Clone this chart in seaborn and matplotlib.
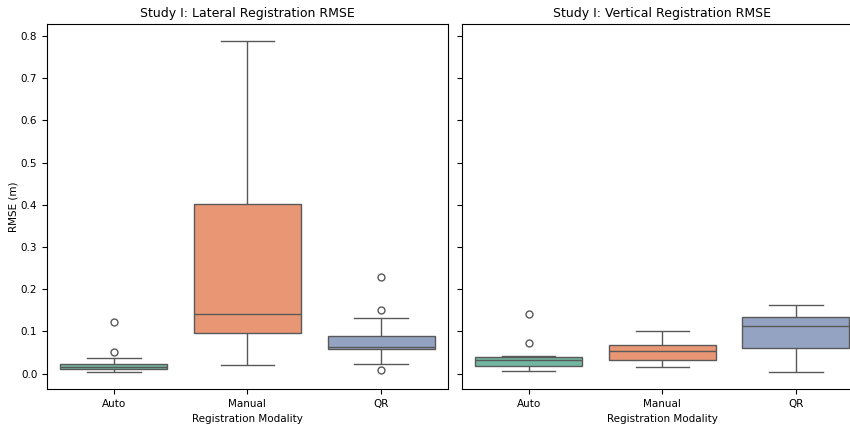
import pandas as pd
import matplotlib
matplotlib.use('Agg')
import matplotlib.pyplot as plt
import seaborn as sns

modalities = ['Auto', 'Manual', 'QR']

# lateral RMSE (m) per modality
lateral_auto = [0.003, 0.006, 0.008, 0.010, 0.012, 0.014, 0.016, 0.018, 0.020, 0.022, 0.038, 0.052, 0.122]
lateral_manual = [0.020, 0.045, 0.070, 0.097, 0.110, 0.125, 0.141, 0.190, 0.260, 0.402, 0.520, 0.650, 0.789]
lateral_qr = [0.008, 0.022, 0.040, 0.058, 0.060, 0.062, 0.063, 0.070, 0.080, 0.089, 0.133, 0.150, 0.229]

# vertical RMSE (m) per modality
vertical_auto = [0.006, 0.010, 0.015, 0.018, 0.024, 0.029, 0.033, 0.035, 0.037, 0.0385, 0.0425, 0.072, 0.1425]
vertical_manual = [0.015, 0.022, 0.028, 0.0315, 0.040, 0.048, 0.0535, 0.058, 0.063, 0.067, 0.078, 0.090, 0.1015]
vertical_qr = [0.003, 0.025, 0.045, 0.0614, 0.080, 0.100, 0.1126, 0.120, 0.128, 0.1354, 0.145, 0.155, 0.163]


def to_long(groups):
    rows = []
    for name, vals in zip(modalities, groups):
        for v in vals:
            rows.append({'Registration Modality': name, 'RMSE (m)': v})
    return pd.DataFrame(rows)


df_lat = to_long([lateral_auto, lateral_manual, lateral_qr])
df_vert = to_long([vertical_auto, vertical_manual, vertical_qr])

fig, axes = plt.subplots(1, 2, figsize=(8.5, 4.25), dpi=100, sharey=True)

sns.boxplot(data=df_lat, x='Registration Modality', y='RMSE (m)', hue='Registration Modality',
            palette='Set2', legend=False, ax=axes[0], fliersize=5)
axes[0].set_title('Study I: Lateral Registration RMSE', fontsize=9, pad=5)

sns.boxplot(data=df_vert, x='Registration Modality', y='RMSE (m)', hue='Registration Modality',
            palette='Set2', legend=False, ax=axes[1], fliersize=5)
axes[1].set_title('Study I: Vertical Registration RMSE', fontsize=9, pad=5)

for ax in axes:
    ax.tick_params(labelsize=7.5)
    ax.xaxis.label.set_size(7.5)
    ax.yaxis.label.set_size(7.5)
axes[0].yaxis.labelpad = 2

fig.subplots_adjust(left=0.0553, right=1.015, top=0.9435, bottom=0.0847, wspace=0.035)
plt.savefig('out.png', dpi=100)
